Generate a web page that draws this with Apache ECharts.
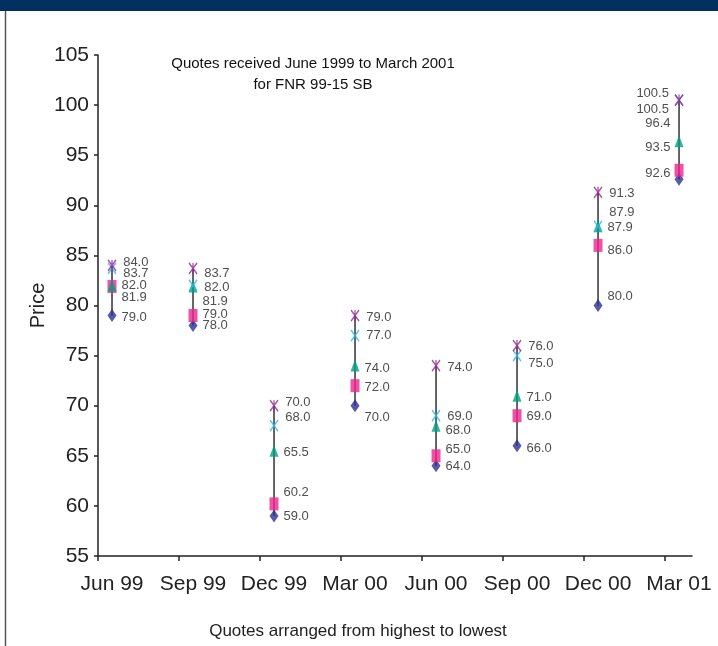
<!DOCTYPE html>
<html>
<head>
<meta charset="utf-8">
<script src="https://cdn.jsdelivr.net/npm/echarts@6/dist/echarts.min.js"></script>
<style>
html,body{margin:0;padding:0;background:#fff;}
#chart{width:718px;height:646px;}
</style>
</head>
<body>
<div id="chart"></div>
<script>
// ---- data ----
const categories = ['Jun 99', 'Sep 99', 'Dec 99', 'Mar 00', 'Jun 00', 'Sep 00', 'Dec 00', 'Mar 01'];
const quoteLowest = [79.0, 78.0, 59.0, 70.0, 64.0, 66.0, 80.0, 92.6];
const quoteFourth = [81.9, 79.0, 60.2, 72.0, 65.0, 69.0, 86.0, 93.5];
const quoteThird  = [82.0, 81.9, 65.5, 74.0, 68.0, 71.0, 87.9, 96.4];
const quoteSecond = [83.7, 82.0, 68.0, 77.0, 69.0, 75.0, 87.9, 100.5];
const quoteHighest = [84.0, 83.7, 70.0, 79.0, 74.0, 76.0, 91.3, 100.5];
const yMin = 55, yMax = 105, yStep = 5;
const titleLines = ['Quotes received June 1999 to March 2001', 'for FNR 99-15 SB'];
const footerText = 'Quotes arranged from highest to lowest';

// ---- layout (label nudges, px) ----
const labelDy = {
  low:  [2, 0, 1, 12, 1, 3, -9, -6],
  q4:   [11, -1, -11, 2, -6, 1, 5, -23],
  q3:   [0, 15, 2, 3, 5, 2, 1, -18],
  q2:   [5, 2, -8, 0, 1, 8, -14, 9],
  high: [-3, 5, -3, 2, 2, 1, 1, -7]
};
const xMin = -0.173, xMax = 7.16;
const FONT = 'Liberation Sans, Arial, Helvetica, sans-serif';

const chart = echarts.init(document.getElementById('chart'), null, {renderer: 'canvas'});

function pts(arr, key) {
  return arr.map((v, i) => ({
    value: [i, v],
    label: {
      offset: [0, labelDy[key][i]],
      position: i === categories.length - 1 ? 'left' : 'right',
      distance: i === categories.length - 1 ? 4 : 5
    }
  }));
}
const labelBase = {
  show: true,
  fontSize: 13,
  fontFamily: FONT,
  color: '#222',
  formatter: p => p.value[1].toFixed(1)
};
const hiLo = categories.map((c, i) => {
  const vals = [quoteLowest[i], quoteFourth[i], quoteThird[i], quoteSecond[i], quoteHighest[i]];
  return [i, Math.min(...vals), Math.max(...vals)];
});
const xPath = 'path://M0,0L10,10M10,0L0,10';
const starPath = 'path://M0,0L10,10M10,0L0,10M5,0L5,10';

const option = {
  backgroundColor: '#fff',
  animation: false,
  grid: {left: 98, right: 26, top: 55, bottom: 90, containLabel: false},
  xAxis: {
    type: 'value',
    min: xMin,
    max: xMax,
    splitLine: {show: false},
    axisLine: {show: true, onZero: false, lineStyle: {color: '#222', width: 1.5}},
    axisTick: {
      show: true, length: 5, inside: false,
      lineStyle: {color: '#222', width: 1.5},
      customValues: categories.map((c, i) => xMin + i)
    },
    axisLabel: {
      show: true,
      customValues: categories.map((c, i) => i),
      formatter: v => categories[Math.round(v)] || '',
      fontSize: 21,
      fontFamily: FONT,
      color: '#222',
      margin: 18
    }
  },
  yAxis: {
    type: 'value',
    min: yMin, max: yMax, interval: yStep,
    name: 'Price',
    nameLocation: 'middle',
    nameRotate: 90,
    nameGap: 50,
    nameMoveOverlap: false,
    nameTextStyle: {fontSize: 20, fontFamily: FONT, color: '#222'},
    splitLine: {show: false},
    axisLine: {show: true, onZero: false, lineStyle: {color: '#222', width: 1.5}},
    axisTick: {show: true, length: 4, lineStyle: {color: '#222', width: 1.5}},
    axisLabel: {fontSize: 21, fontFamily: FONT, color: '#222', margin: 9}
  },
  graphic: [
    {type: 'rect', shape: {x: 0, y: 0, width: 718, height: 11}, style: {fill: '#00305f'}},
    {type: 'line', shape: {x1: 5.5, y1: 11, x2: 5.5, y2: 646}, style: {stroke: '#555', lineWidth: 1.5}},
    {type: 'text', x: 313, y: 64, style: {text: titleLines[0], font: '15px ' + FONT, fill: '#111', textAlign: 'center', textVerticalAlign: 'middle'}},
    {type: 'text', x: 313, y: 85, style: {text: titleLines[1], font: '15px ' + FONT, fill: '#111', textAlign: 'center', textVerticalAlign: 'middle'}},
    {type: 'text', x: 358, y: 631, style: {text: footerText, font: '17px ' + FONT, fill: '#222', textAlign: 'center', textVerticalAlign: 'middle'}}
  ],
  series: [
    {
      type: 'custom',
      name: 'range',
      data: hiLo,
      z: 1,
      renderItem: (params, api) => {
        const p1 = api.coord([api.value(0), api.value(1)]);
        const p2 = api.coord([api.value(0), api.value(2)]);
        return {type: 'line', shape: {x1: p1[0], y1: p1[1], x2: p2[0], y2: p2[1]}, style: {stroke: '#333', lineWidth: 1.5}};
      }
    },
    {
      type: 'scatter', name: 'Lowest', z: 3,
      symbol: 'diamond', symbolSize: [9, 13],
      itemStyle: {color: '#2e3192'},
      label: labelBase,
      data: pts(quoteLowest, 'low')
    },
    {
      type: 'scatter', name: 'Fourth', z: 3,
      symbol: 'rect', symbolSize: [9, 13],
      itemStyle: {color: '#ec268f'},
      label: labelBase,
      data: pts(quoteFourth, 'q4')
    },
    {
      type: 'scatter', name: 'Third', z: 3,
      symbol: 'triangle', symbolSize: [9, 12],
      itemStyle: {color: '#00a07f'},
      label: labelBase,
      data: pts(quoteThird, 'q3')
    },
    {
      type: 'scatter', name: 'Second', z: 3,
      symbol: xPath, symbolSize: [8, 11],
      itemStyle: {color: 'none', borderColor: '#2ab6ea', borderWidth: 1.5},
      label: labelBase,
      data: pts(quoteSecond, 'q2')
    },
    {
      type: 'scatter', name: 'Highest', z: 3,
      symbol: starPath, symbolSize: [8, 11],
      itemStyle: {color: 'none', borderColor: '#92278f', borderWidth: 1.5},
      label: labelBase,
      data: pts(quoteHighest, 'high')
    }
  ]
};
chart.setOption(option);
</script>
</body>
</html>
